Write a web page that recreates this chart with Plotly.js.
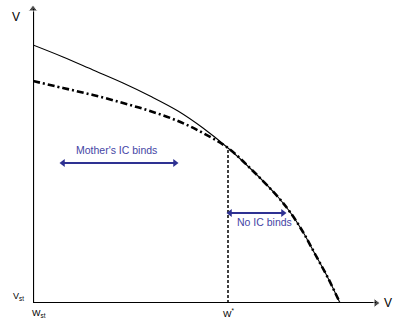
<!DOCTYPE html>
<html>
<head>
<meta charset="utf-8">
<script src="https://cdn.plot.ly/plotly-3.0.1.min.js"></script>
<style>html,body{margin:0;padding:0;background:#fff;}#chart{width:393px;height:324px;}</style>
</head>
<body>
<div id="chart"></div>
<script>
// Upper (solid) frontier
const solidW = [0, 30, 60, 90, 117, 145, 170, 195, 220, 245, 257, 270, 282, 295, 307];
const solidV = [258, 246, 233, 220, 207, 192, 175, 155, 132, 106, 91, 71, 49, 25, 0];
// Lower (dash-dot) frontier, merging with the solid one after W*
const dashW = [0, 30, 60, 90, 117, 145, 170, 195, 220, 245, 257, 270, 282, 295, 307];
const dashV = [222, 215, 208, 200, 192, 182, 170, 155, 132, 106, 91, 71, 49, 25, 0];
// W* marker
const wStar = 195;
const wStarV = 155;
// Axis extents
const xAxisEnd = 347;
const yAxisEnd = 298;
// Region arrows
const motherArrow = [27, 145, 140];   // [x0, x1, y]
const noICArrow = [194, 253, 90];      // [x0, x1, y]
const labels = {mother: "Mother's IC binds", noIC: "No IC binds"};

const font = "Liberation Sans, Arial, sans-serif";
const blue = '#2e3192';
const textBlue = '#4545a5';

function dbl(a) {
  return {x: [a[0] + 3, a[1] - 3], y: [a[2], a[2]], mode: 'lines+markers', cliponaxis: false,
    line: {color: blue, width: 2}, marker: {symbol: ['triangle-left', 'triangle-right'], size: 7, color: blue},
    hoverinfo: 'skip'};
}

const traces = [
  {x: [0, 0], y: [0, yAxisEnd - 4], mode: 'lines+markers', cliponaxis: false,
    line: {color: '#000', width: 2.2}, marker: {symbol: ['circle', 'triangle-up'], size: [0, 8], color: '#000'}, hoverinfo: 'skip'},
  {x: [0, xAxisEnd - 4], y: [0, 0], mode: 'lines+markers', cliponaxis: false,
    line: {color: '#000', width: 2.2}, marker: {symbol: ['circle', 'triangle-right'], size: [0, 8], color: '#000'}, hoverinfo: 'skip'},
  {x: solidW, y: solidV, mode: 'lines', line: {color: '#000', width: 1.1, shape: 'spline', smoothing: 1}, hoverinfo: 'skip'},
  {x: dashW, y: dashV, mode: 'lines', line: {color: '#000', width: 2.6, dash: '7px,3px,2px,3px', shape: 'spline', smoothing: 1}, hoverinfo: 'skip'},
  {x: [wStar, wStar], y: [0, wStarV], mode: 'lines', line: {color: '#000', width: 1.5, dash: '3px,2px'}, hoverinfo: 'skip'},
  dbl(motherArrow),
  dbl(noICArrow)
];

function label(x, y, text, size, color, ref) {
  return {x: x, y: y, xref: ref || 'x', yref: ref ? 'paper' : 'y', text: text, showarrow: false,
    font: {family: font, size: size, color: color}, xanchor: 'center', yanchor: 'middle'};
}

const annotations = [
  label(83, 153, labels.mother, 10.5, textBlue),
  label(231, 81, labels.noIC, 10.5, textBlue),
  label(-0.047, 0.944, 'V', 12, '#000', 'paper'),
  label(0.986, 0.0, 'V', 12, '#000', 'paper'),
  label(-0.039, 0.02, 'V<sub>st</sub>', 9, '#000', 'paper'),
  label(0.017, -0.036, 'W<sub>st</sub>', 9, '#000', 'paper'),
  label(0.544, -0.033, 'W<sup>*</sup>', 9, '#000', 'paper')
];

const layout = {
  width: 393, height: 324,
  margin: {l: 33, r: 0, t: 0, b: 21},
  paper_bgcolor: '#fff', plot_bgcolor: '#fff',
  showlegend: false,
  xaxis: {range: [0, 360], visible: false, fixedrange: true},
  yaxis: {range: [0, 303], visible: false, fixedrange: true},
  annotations: annotations
};

Plotly.newPlot('chart', traces, layout, {staticPlot: true});
</script>
</body>
</html>
